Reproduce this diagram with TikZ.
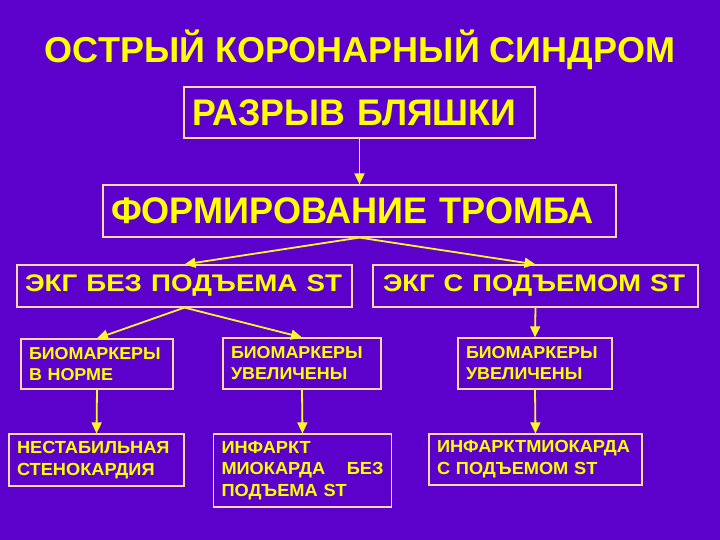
\documentclass[tikz,border=0pt]{standalone}
\usepackage{fontspec}
\usepackage{graphicx}
\setmainfont{Liberation Sans}
\newfontfamily\smallfam[FakeStretch=1.04]{Liberation Sans}
\usetikzlibrary{arrows.meta}
\definecolor{bg}{RGB}{92,0,204}
\definecolor{ttext}{RGB}{255,255,0}
\definecolor{bord}{RGB}{250,215,160}
\definecolor{arr}{RGB}{255,245,40}
\newcommand{\fitw}[2]{\resizebox{#1}{\height}{#2}}
\tikzset{
  box/.style={draw=bord, line width=1.2pt, inner xsep=8pt, inner ysep=0pt, align=left, text=ttext, font=\bfseries},
  conn/.style={draw=arr, line width=1.8pt, -{Triangle[length=11pt,width=10pt]}},
}
\begin{document}
\begin{tikzpicture}[x=1pt,y=-1pt]
\fill[bg] (0,0) rectangle (720,540);
\useasboundingbox (0,0) rectangle (720,540);
\node[text=ttext, font=\bfseries\fontsize{36}{40}\selectfont] (title) at (360,50) {\fitw{630pt}{ОСТРЫЙ КОРОНАРНЫЙ СИНДРОМ}};
\node[box, text width=335pt, minimum height=51pt, font=\bfseries\fontsize{37}{40}\selectfont] (b1) at (359.5,112.5) {\fitw{324pt}{РАЗРЫВ БЛЯШКИ}};
\node[box, text width=497pt, minimum height=52pt, font=\bfseries\fontsize{37}{40}\selectfont] (b2) at (359.5,211) {\fitw{483pt}{ФОРМИРОВАНИЕ ТРОМБА}};
\node[box, text width=319pt, minimum height=42pt, font=\bfseries\fontsize{24}{28}\selectfont] (b3) at (184.5,286) {\fitw{317pt}{ЭКГ БЕЗ ПОДЪЕМА ST}};
\node[box, text width=309pt, minimum height=42pt, font=\bfseries\fontsize{24}{28}\selectfont] (b4) at (535.5,286) {\hspace{2pt}\fitw{302pt}{ЭКГ С ПОДЪЕМОМ ST}};
\node[box, text width=136pt, minimum height=50pt, font=\smallfam\bfseries\fontsize{17.2}{21}\selectfont] (m1) at (97,364) {БИОМАРКЕРЫ\\В НОРМЕ};
\node[box, text width=142pt, minimum height=51pt, font=\smallfam\bfseries\fontsize{17.2}{21}\selectfont] (m2) at (302,363.5) {БИОМАРКЕРЫ\\УВЕЛИЧЕНЫ};
\node[box, text width=138pt, minimum height=51pt, font=\smallfam\bfseries\fontsize{17.2}{21}\selectfont] (m3) at (535,363.5) {БИОМАРКЕРЫ\\УВЕЛИЧЕНЫ};
\node[box, text width=159pt, minimum height=52pt, font=\smallfam\bfseries\fontsize{17.5}{22}\selectfont] (l1) at (96.5,460) {НЕСТАБИЛЬНАЯ\\СТЕНОКАРДИЯ};
\node[box, text width=162pt, minimum height=73pt, font=\smallfam\bfseries\fontsize{17.5}{21.5}\selectfont] (l2) at (302.5,470.5) {ИНФАРКТ\\МИОКАРДА\hfill БЕЗ\\ПОДЪЕМА ST};
\node[box, text width=197pt, minimum height=51pt, font=\smallfam\bfseries\fontsize{17.5}{22}\selectfont] (l3) at (535.5,459.5) {ИНФАРКТМИОКАРДА\\С ПОДЪЕМОМ ST};
\draw[conn] (b1.south) -- (b2.north);
\draw[conn] (b2.south) -- (b3.north);
\draw[conn] (b2.south) -- (b4.north);
\draw[conn] (b3.south) -- (m1.north);
\draw[conn] (b3.south) -- (m2.north);
\draw[conn] (b4.south) -- (m3.north);
\draw[conn] (m1.south) -- (l1.north);
\draw[conn] (m2.south) -- (l2.north);
\draw[conn] (m3.south) -- (l3.north);
\end{tikzpicture}
\end{document}
